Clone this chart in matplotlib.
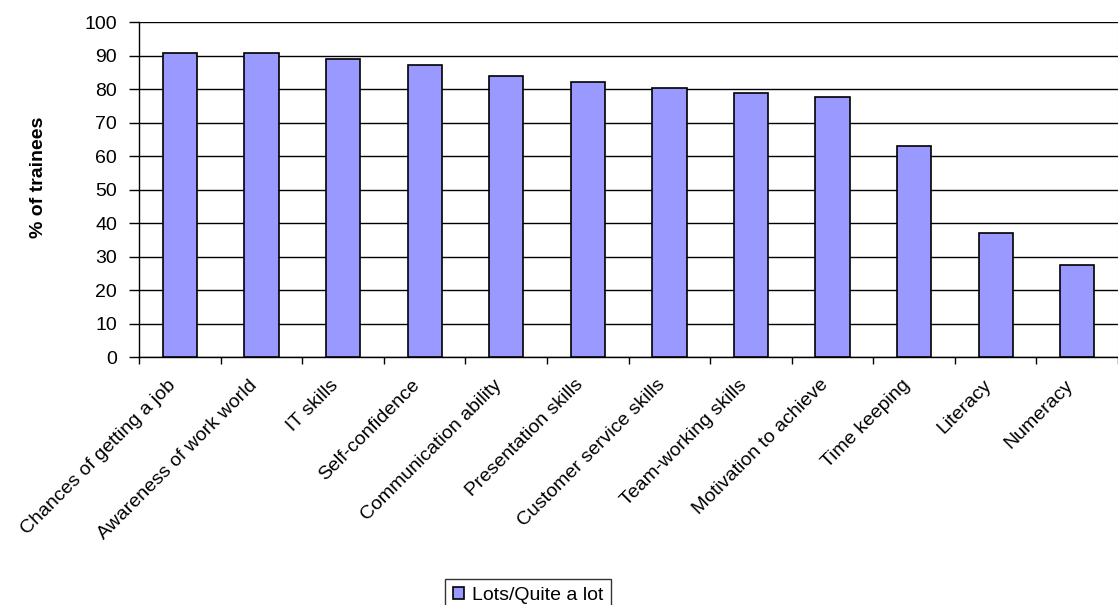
import numpy as np
import matplotlib
matplotlib.use("Agg")
import matplotlib.pyplot as plt
import matplotlib.transforms as mtransforms
from matplotlib.ticker import FixedLocator, NullFormatter

# ----- Data -----
categories = [
    "Chances of getting a job", "Awareness of work world", "IT skills",
    "Self-confidence", "Communication ability", "Presentation skills",
    "Customer service skills", "Team-working skills", "Motivation to achieve",
    "Time keeping", "Literacy", "Numeracy",
]
values = [90.7, 90.7, 88.9, 87.2, 83.9, 82.3, 80.5, 78.8, 77.7, 63.1, 37.0, 27.5]
series_name = "Lots/Quite a lot"
y_ticks = list(range(0, 101, 10))
# ----------------

FS = 14
plt.rcParams['font.family'] = ['Liberation Sans', 'DejaVu Sans']

fig = plt.figure(figsize=(11.18, 6.05), dpi=100)
ax = fig.add_axes([139.2 / 1118, 1 - 357 / 605, (1118 - 139.2) / 1118, (357 - 22.3) / 605])

x = np.arange(len(categories))
bars = ax.bar(x, values, width=0.42, color="#9999ff", edgecolor="black",
              linewidth=1.2, zorder=3, label=series_name)

ax.set_xlim(-0.5, len(categories) - 0.5)
ax.set_ylim(0, 100)
ax.set_yticks(y_ticks)
ax.tick_params(axis="y", labelsize=FS, length=7, width=1, direction="out", pad=9)

# category labels at bar centres, tick marks at boundaries
ax.set_xticks(x)
ax.set_xticklabels(categories, rotation=45, ha="right", rotation_mode="anchor", fontsize=FS)
ax.tick_params(axis="x", which="major", length=0, pad=14)
shift = mtransforms.ScaledTranslation(-13 / 100, 0, fig.dpi_scale_trans)
for lbl in ax.get_xticklabels():
    lbl.set_transform(lbl.get_transform() + shift)
ax.xaxis.set_minor_locator(FixedLocator(np.arange(-0.5, len(categories), 1.0)))
ax.xaxis.set_minor_formatter(NullFormatter())
ax.tick_params(axis="x", which="minor", length=5, width=1, direction="out")

ax.yaxis.grid(True, color="black", linewidth=1, zorder=0)
ax.set_axisbelow(True)
ax.spines["top"].set_visible(False)
ax.spines["right"].set_color("#d8d8d8")
ax.spines["left"].set_linewidth(1)
ax.spines["bottom"].set_linewidth(1)

ax.set_ylabel("% of trainees", fontsize=FS, fontweight="bold")
ax.yaxis.set_label_coords(-0.094, 0.538)

leg = fig.legend(handles=[bars], labels=[series_name], loc="upper center",
                 bbox_to_anchor=(528 / 1118, 1 - 569 / 605), fontsize=FS,
                 frameon=True, fancybox=False, edgecolor="black",
                 handlelength=0.6, handleheight=0.6, handletextpad=0.4,
                 borderpad=0.4)
leg.get_frame().set_linewidth(1)

fig.savefig("out.png", dpi=100)
